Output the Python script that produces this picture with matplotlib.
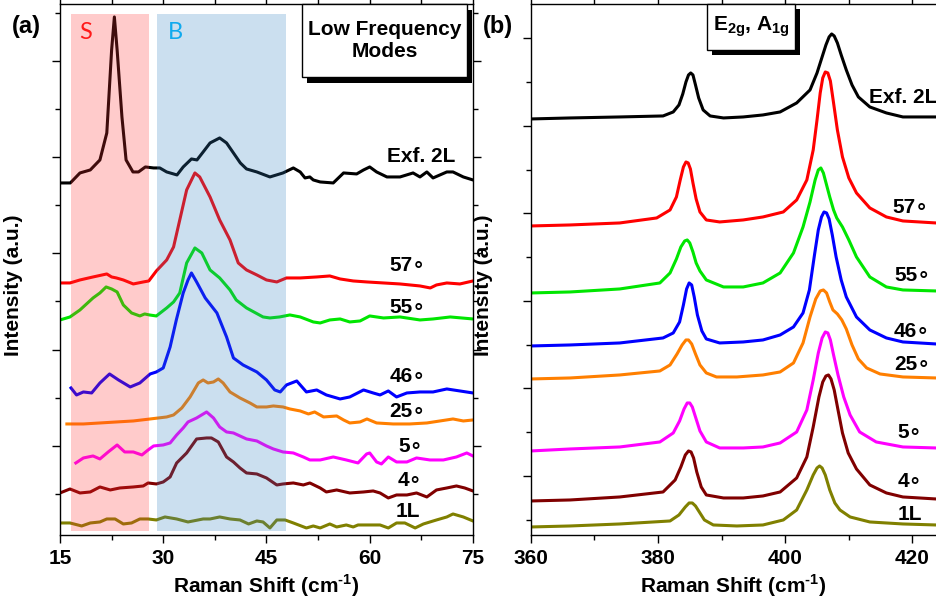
import matplotlib
matplotlib.use("Agg")
import matplotlib.pyplot as plt
from matplotlib.patches import Rectangle

plt.rcParams['font.family'] = ['Liberation Sans', 'DejaVu Sans']
plt.rcParams['font.weight'] = 'bold'
plt.rcParams['mathtext.fontset'] = 'custom'
plt.rcParams['mathtext.rm'] = 'Liberation Sans:bold'
plt.rcParams['mathtext.bf'] = 'Liberation Sans:bold'

# ---------------- (a) low frequency modes ----------------
lf_exf_x = [15, 16.5, 17.9, 19.4, 20.8, 21.8, 22.5, 22.9, 23.3, 24.0, 24.6, 25.6, 26.4, 27.4, 28.6, 29.5,
            30.5, 32.0, 32.9, 34.1, 34.9, 35.8, 36.8, 38.2, 39.2, 40.2, 41.2, 42.1, 43.6, 45.5, 47.4, 48.9,
            49.9, 50.6, 51.3, 51.8, 52.8, 54.7, 56.2, 58.1, 59.1, 60.0, 61.0, 62.5, 64.4, 66.3, 67.3, 68.3,
            69.2, 71.2, 72.1, 73.6, 75]
lf_exf_y = [352, 352, 362, 365, 375, 402, 485, 518, 485, 418, 375, 363, 363, 368, 367, 367,
            363, 360, 368, 376, 375, 383, 392, 397, 392, 382, 372, 366, 363, 358, 362, 367,
            363, 357, 358, 355, 353, 352, 362, 361, 365, 368, 363, 358, 358, 362, 358, 363,
            357, 363, 363, 358, 355]

lf_57_x = [15, 16.45, 17.9, 19.8, 21.8, 22.5, 23.2, 24.2, 25.65, 27.1, 27.9, 29.0, 30.5, 31.5, 32.4, 33.4,
           34.6, 35.3, 36.8, 38.2, 39.7, 40.9, 42.1, 43.6, 45.0, 46.5, 47.9, 49.9, 52.3, 54.2, 55.7, 57.6,
           59.6, 62.0, 64.4, 67.3, 68.8, 69.7, 71.2, 73.1, 75]
lf_57_y = [252, 252, 255, 258, 261, 258, 257, 255, 251, 253, 254, 264, 275, 288, 315, 345,
           362, 358, 338, 315, 295, 272, 265, 260, 255, 253, 257, 257, 258, 259, 256, 254,
           253, 252, 251, 249, 247, 250, 252, 251, 254]

lf_55_x = [15, 16.45, 17.9, 19.8, 20.8, 21.7, 22.5, 23.3, 24.2, 25.4, 26.6, 27.3, 28.0, 29.0, 30.5, 31.5,
           32.4, 33.4, 34.6, 35.6, 36.8, 38.2, 39.7, 40.6, 42.1, 44.5, 45.5, 46.9, 48.4, 49.9, 51.8, 52.8,
           54.2, 55.7, 57.1, 58.6, 60.0, 62.0, 64.4, 67.3, 69.2, 71.7, 75]
lf_55_y = [215, 218, 225, 237, 242, 248, 246, 243, 230, 222, 219, 221, 220, 219, 227, 233,
           242, 272, 287, 282, 265, 257, 245, 235, 227, 218, 217, 218, 220, 218, 213, 212,
           215, 216, 213, 214, 219, 217, 218, 215, 216, 218, 216]

lf_46_x = [16.6, 17.4, 18.4, 19.6, 20.8, 22.2, 23.5, 25.2, 26.6, 28.1, 29.0, 30.0, 31.0, 31.9, 32.9, 33.6,
           34.1, 34.85, 36.1, 37.8, 39.2, 40.2, 41.6, 43.6, 45.0, 46.2, 47.0, 47.9, 49.4, 50.8, 52.3, 53.7,
           55.7, 57.1, 59.1, 60.5, 61.5, 62.7, 63.9, 65.4, 67.3, 69.2, 71.2, 73.1, 75]
lf_46_y = [147, 140, 143, 142, 152, 161, 155, 148, 152, 161, 163, 167, 188, 215, 242, 255,
           262, 253, 237, 222, 198, 177, 170, 163, 155, 145, 143, 150, 154, 143, 145, 140,
           136, 138, 145, 142, 140, 144, 138, 142, 143, 143, 146, 144, 142]

lf_25_x = [16.0, 18.4, 20.8, 23.2, 25.65, 28.1, 30.5, 31.5, 32.7, 33.9, 35.1, 35.8, 36.5, 37.3, 38.0, 38.7,
           39.7, 41.15, 42.6, 43.6, 45.0, 46.0, 47.4, 48.4, 49.9, 51.1, 52.0, 53.3, 55.2, 56.2, 57.1, 58.6,
           59.6, 61.0, 63.4, 65.8, 68.3, 70.2, 72.1, 73.6, 75]
lf_25_y = [111, 111, 112, 113, 114, 116, 118, 120, 127, 138, 152, 155, 152, 153, 156, 152,
           143, 137, 132, 128, 128, 129, 128, 126, 124, 121, 123, 118, 119, 115, 112, 113,
           116, 112, 111, 111, 112, 114, 116, 114, 115]

lf_5_x = [17.3, 18.4, 19.8, 20.8, 22.0, 23.3, 24.4, 25.65, 26.9, 27.8, 28.6, 30.0, 31.0, 31.95, 32.9, 33.6,
          34.85, 36.3, 37.3, 38.2, 39.2, 40.2, 41.15, 42.1, 43.6, 45.0, 46.0, 47.4, 48.9, 50.35, 51.3, 52.8,
          54.7, 56.6, 58.3, 59.55, 60.0, 61.0, 61.7, 62.7, 63.9, 65.4, 66.8, 68.75, 70.7, 72.6, 74.1, 75]
lf_5_y = [72, 77, 79, 76, 83, 90, 83, 83, 80, 85, 89, 90, 92, 100, 107, 113,
          117, 123, 117, 108, 103, 102, 99, 96, 94, 89, 86, 83, 82, 78, 75, 75,
          78, 75, 72, 81, 82, 73, 71, 78, 73, 73, 77, 75, 75, 78, 82, 79]

lf_4_x = [15, 16.45, 17.9, 19.4, 20.8, 22.3, 23.7, 25.65, 27.1, 27.8, 29.0, 30.0, 31.0, 31.95, 33.4, 34.85,
          36.3, 37.0, 38.0, 39.2, 40.2, 41.15, 42.1, 43.6, 45.0, 46.5, 47.4, 48.9, 50.35, 51.3, 52.8, 53.7,
          55.2, 57.1, 59.1, 60.5, 61.5, 62.7, 63.9, 65.4, 66.8, 68.3, 69.7, 71.2, 72.6, 73.8, 75]
lf_4_y = [42, 46, 42, 43, 48, 45, 47, 48, 49, 52, 51, 53, 58, 72, 82, 96,
          97, 97, 93, 78, 73, 67, 62, 61, 57, 50, 51, 52, 50, 52, 47, 43,
          45, 42, 43, 44, 42, 37, 40, 40, 42, 38, 45, 47, 49, 47, 44]

lf_1l_x = [15, 16.45, 18.15, 19.4, 20.8, 21.8, 23.0, 24.2, 25.4, 26.6, 27.8, 29.0, 30.25, 31.95, 33.6, 35.8,
           36.8, 38.2, 39.7, 41.15, 42.4, 43.6, 44.5, 45.5, 46.5, 47.7, 48.9, 50.8, 51.8, 52.8, 54.2, 55.2,
           56.6, 57.6, 58.3, 59.55, 61.5, 62.7, 63.9, 65.1, 66.6, 67.8, 69.7, 71.2, 72.1, 73.6, 75]
lf_1l_y = [12, 12, 9, 12, 13, 16, 16, 11, 12, 16, 16, 15, 18, 16, 13, 16,
           16, 18, 16, 15, 11, 14, 13, 7, 15, 15, 12, 7, 9, 7, 11, 8,
           10, 8, 10, 10, 10, 7, 12, 12, 7, 11, 15, 18, 21, 18, 14]

# ---------------- (b) E2g / A1g modes ----------------
hf_exf_x = [360, 366.2, 374.0, 380.8, 382.4, 383.3, 383.9, 384.4, 384.8, 385.15, 385.5, 385.9, 386.4, 387.1,
            388.2, 390.3, 393.4, 396.5, 399.2, 401.8, 403.9, 405.0, 405.8, 406.4, 406.9, 407.3, 407.7,
            408.2, 408.8, 409.6, 410.5, 411.5, 413.3, 415.9, 418.5, 423.7]
hf_exf_y = [416, 417, 418, 419, 423, 430, 441, 453, 460, 462, 460, 450, 437, 425,
            419, 417, 418, 420, 423, 432, 445, 462, 478, 490, 498, 501, 499,
            492, 480, 465, 450, 438, 428, 422, 418, 418]

hf_57_x = [360, 366.2, 374.0, 379.8, 381.9, 382.9, 383.5, 384.0, 384.4, 384.75, 385.1, 385.5, 386.0, 386.6,
           387.6, 389.7, 393.4, 396.5, 399.7, 401.8, 403.4, 404.4, 405.0, 405.5, 405.9, 406.3, 406.7,
           407.1, 407.6, 408.2, 409.0, 410.0, 411.2, 413.3, 415.9, 418.5, 423.7]
hf_57_y = [309, 310, 312, 317, 325, 338, 355, 368, 373, 372, 366, 352, 336, 323,
           315, 313, 315, 318, 323, 335, 355, 385, 415, 442, 457, 463, 462,
           454, 432, 405, 378, 357, 342, 327, 318, 314, 312]

hf_55_x = [360, 366.2, 374.0, 380.3, 381.9, 382.9, 383.6, 384.2, 384.6, 385.0, 385.5, 386.0, 386.6, 387.6,
           390.3, 393.4, 396.5, 399.2, 401.3, 402.8, 403.9, 404.7, 405.2, 405.6, 406.0, 406.5, 407.0,
           407.6, 408.1, 409.0, 410.0, 411.2, 413.3, 415.9, 418.5, 423.7]
hf_55_y = [242, 243, 246, 252, 262, 276, 288, 294, 295, 292, 283, 272, 264, 255,
           248, 248, 252, 262, 282, 308, 333, 355, 365, 367, 362, 350, 338,
           325, 317, 308, 295, 278, 258, 248, 245, 244]

hf_46_x = [360, 366.2, 374.0, 380.8, 382.4, 383.4, 384.0, 384.5, 384.9, 385.3, 385.7, 386.2, 386.9, 387.6,
           389.7, 393.4, 396.5, 399.2, 401.3, 402.8, 403.8, 404.6, 405.2, 405.7, 406.1, 406.5, 406.9,
           407.4, 408.0, 408.8, 409.6, 411.2, 413.3, 415.9, 418.5, 423.7]
hf_46_y = [189, 190, 192, 197, 202, 213, 230, 246, 252, 250, 238, 220, 204, 196,
           192, 193, 195, 200, 208, 222, 245, 280, 305, 318, 323, 322, 316,
           300, 278, 255, 238, 218, 205, 197, 193, 191]

hf_25_x = [360, 366.2, 374.0, 380.3, 381.9, 383.0, 383.8, 384.4, 384.8, 385.3, 385.9, 386.6, 387.6, 389.2,
           392.4, 396.5, 399.2, 401.3, 402.8, 403.9, 404.8, 405.5, 406.0, 406.5, 407.0, 407.5, 408.2,
           408.9, 409.6, 410.5, 411.5, 412.8, 414.9, 418.5, 423.7]
hf_25_y = [156, 157, 160, 164, 170, 181, 190, 195, 195, 191, 181, 170, 162, 158,
           158, 160, 163, 172, 192, 218, 236, 244, 245, 242, 233, 225, 221,
           215, 206, 190, 176, 167, 161, 158, 157]

hf_5_x = [360, 366.2, 374.0, 380.3, 382.4, 383.4, 384.1, 384.6, 385.0, 385.4, 385.9, 386.6, 387.6, 389.7,
          393.4, 396.5, 399.2, 401.8, 403.4, 404.4, 405.2, 405.8, 406.3, 406.7, 407.1, 407.6, 408.3,
          409.2, 410.2, 411.7, 414.3, 418.5, 423.7]
hf_5_y = [84, 86, 88, 93, 102, 114, 126, 132, 132, 128, 118, 104, 93, 87,
          87, 88, 92, 103, 125, 155, 182, 197, 203, 202, 195, 180, 160,
          138, 120, 103, 93, 88, 87]

hf_4_x = [360, 366.2, 374.0, 380.8, 382.7, 383.6, 384.3, 384.8, 385.2, 385.6, 386.1, 386.8, 387.6, 390.3,
          393.4, 396.5, 399.2, 401.8, 403.4, 404.4, 405.3, 405.9, 406.4, 406.8, 407.2, 407.7, 408.3,
          409.0, 409.9, 411.2, 413.3, 415.9, 418.5, 423.7]
hf_4_y = [34, 35, 38, 43, 55, 68, 80, 84, 83, 77, 63, 48, 40, 37,
          37, 39, 43, 57, 78, 108, 138, 153, 159, 160, 156, 145, 125,
          102, 82, 66, 50, 42, 38, 36]

hf_1l_x = [360, 366.2, 374.0, 381.9, 383.3, 384.3, 384.9, 385.4, 385.9, 386.5, 387.3, 388.7, 392.4, 396.5,
           399.7, 401.8, 403.4, 404.4, 405.0, 405.4, 405.8, 406.3, 407.0, 407.8, 408.6, 410.2, 413.3,
           418.5, 423.7]
hf_1l_y = [8, 9, 11, 14, 20, 28, 32, 32, 29, 23, 15, 10, 9, 10,
           15, 25, 45, 60, 67, 69, 67, 60, 45, 32, 25, 18, 13, 11, 10]

colors = ['black', '#ff0000', '#00e600', '#0000ff', '#ff7f00', '#ff00ff', '#800000', '#808000']
names = ['Exf. 2L', '57∘', '55∘', '46∘', '25∘', '5∘', '4∘', '1L']

lf_series = [(lf_exf_x, lf_exf_y), (lf_57_x, lf_57_y), (lf_55_x, lf_55_y), (lf_46_x, lf_46_y),
             (lf_25_x, lf_25_y), (lf_5_x, lf_5_y), (lf_4_x, lf_4_y), (lf_1l_x, lf_1l_y)]
hf_series = [(hf_exf_x, hf_exf_y), (hf_57_x, hf_57_y), (hf_55_x, hf_55_y), (hf_46_x, hf_46_y),
             (hf_25_x, hf_25_y), (hf_5_x, hf_5_y), (hf_4_x, hf_4_y), (hf_1l_x, hf_1l_y)]

# label anchor (left edge x, centre y)
lf_lab_x = [62.5, 62.9, 62.9, 62.9, 62.8, 64.1, 64.1, 63.7]
lf_lab_y = [378, 269, 227, 158, 123, 88, 54, 23]
hf_lab_x = [413.1, 416.9, 417.1, 417.1, 417.2, 417.7, 417.6, 417.6]
hf_lab_y = [437, 327, 259, 203, 170, 102, 53, 20]

fig = plt.figure(figsize=(9.36, 5.98), dpi=100)
ax1 = fig.add_axes([0.0641, 0.1054, 0.4412, 0.888])
ax2 = fig.add_axes([0.567, 0.1054, 0.433, 0.888])

lab_font = ['Liberation Sans', 'DejaVu Sans']

for (x, y), c in zip(lf_series, colors):
    ax1.plot(x, y, color=c, lw=2.2, zorder=2, solid_joinstyle='round')
for (x, y), c in zip(hf_series, colors):
    ax2.plot(x, y, color=c, lw=2.2, zorder=2, solid_joinstyle='round')

for n, xl, yl in zip(names, lf_lab_x, lf_lab_y):
    ax1.text(xl, yl, n, fontsize=15, fontweight='bold', va='center', ha='left', family=lab_font)
for n, xl, yl in zip(names, hf_lab_x, hf_lab_y):
    ax2.text(xl, yl, n, fontsize=15, fontweight='bold', va='center', ha='left', family=lab_font,
             clip_on=False)

# shaded S and B regions (drawn over the lines)
ax1.axvspan(16.6, 27.9, ymin=0.0075, ymax=0.981, color=(1, 0.2, 0.2), alpha=0.25, lw=0, zorder=3)
ax1.axvspan(29.1, 47.9, ymin=0.0075, ymax=0.981, color=(0.2, 0.51, 0.76), alpha=0.25, lw=0, zorder=3)
ax1.text(18.8, 502, 'S', color='#ff1a1a', fontsize=17, fontweight='normal', family='Lato',
         va='center', ha='center', zorder=4)
ax1.text(31.7, 502, 'B', color='#10aaee', fontsize=17, fontweight='normal', family='Lato',
         va='center', ha='center', zorder=4)


def shadow_box(ax, x0, y0, x1, y1, dx, dy, text, fs):
    ax.add_patch(Rectangle((x0 + dx, y0 - dy), x1 - x0, y1 - y0, transform=ax.transAxes,
                           facecolor='black', edgecolor='black', lw=0, clip_on=False, zorder=5))
    ax.add_patch(Rectangle((x0, y0), x1 - x0, y1 - y0, transform=ax.transAxes,
                           facecolor='white', edgecolor='black', lw=1.0, clip_on=False, zorder=6))
    ax.text((x0 + x1) / 2, (y0 + y1) / 2, text, transform=ax.transAxes, ha='center', va='center',
            fontsize=fs, fontweight='bold', zorder=7, linespacing=1.25)


shadow_box(ax1, 0.586, 0.862, 0.985, 1.0, 0.012, 0.011, 'Low Frequency\nModes', 15)
shadow_box(ax2, 0.435, 0.913, 0.652, 1.0, 0.013, 0.009, r'$\mathbf{E_{2g}}$, $\mathbf{A_{1g}}$', 15)

ax1.set_xlim(15, 75)
ax1.set_ylim(0, 531)
ax2.set_xlim(360, 423.7)
ax2.set_ylim(0, 531)

ax1.set_xticks([15, 30, 45, 60, 75])
ax1.set_xticks([22.5, 37.5, 52.5, 67.5], minor=True)
ax1.set_yticks([89, 185, 282, 378, 474])
ax1.set_yticks([41, 137, 234, 330, 426, 522], minor=True)
ax2.set_xticks([360, 380, 400, 420])
ax2.set_xticks([370, 390, 410], minor=True)
ax2.set_yticks([59, 147, 234, 322, 409, 497])
ax2.set_yticks([15, 103, 190, 278, 365, 453], minor=True)

for ax in (ax1, ax2):
    ax.set_yticklabels([])
    ax.tick_params(axis='both', which='major', direction='out', length=6, width=1.0,
                   labelsize=15, pad=4)
    ax.tick_params(axis='both', which='minor', direction='out', length=3.5, width=1.0)
    ax.tick_params(axis='x', which='both', top=True)
    for lab in ax.get_xticklabels():
        lab.set_fontweight('bold')
    for s in ax.spines.values():
        s.set_linewidth(1.0)
    ax.set_xlabel(r'Raman Shift (cm$^{\text{-}1}$)', fontsize=15, fontweight='bold', labelpad=3)
    ax.set_ylabel('Intensity (a.u.)', fontsize=15, fontweight='bold')

ax1.tick_params(axis='y', which='both', right=True)
ax2.spines['right'].set_visible(False)
ax1.yaxis.set_label_coords(-0.09, 0.47)
ax2.yaxis.set_label_coords(-0.093, 0.47)

fig.text(0.028, 0.955, '(a)', fontsize=17, fontweight='bold', va='center', ha='center')
fig.text(0.532, 0.955, '(b)', fontsize=17, fontweight='bold', va='center', ha='center')

fig.savefig('out.png', dpi=100)
